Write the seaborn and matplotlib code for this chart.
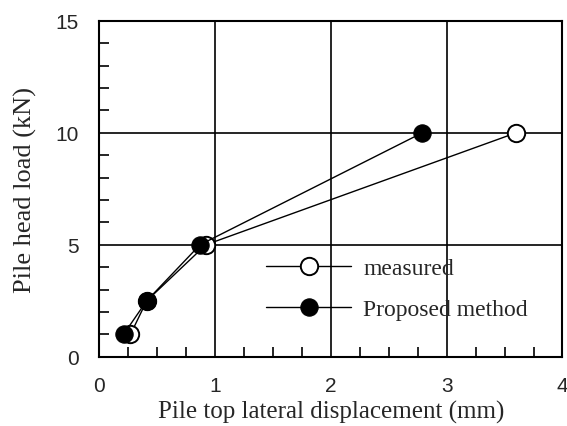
import matplotlib
matplotlib.use("Agg")
import matplotlib.pyplot as plt
import seaborn as sns
import pandas as pd
from matplotlib.ticker import MultipleLocator

measured_x = [0.27, 0.41, 0.92, 3.60]
measured_y = [1.0, 2.5, 5.0, 10.0]
proposed_x = [0.21, 0.41, 0.87, 2.79]
proposed_y = [1.0, 2.5, 5.0, 10.0]

sns.set_theme(style="white")
plt.rcParams['font.family'] = ['Liberation Serif', 'DejaVu Serif']

fig = plt.figure(figsize=(5.67, 4.27), dpi=100)
ax = fig.add_axes([0.175, 0.162, 0.817, 0.787])

dm = pd.DataFrame({"x": measured_x, "y": measured_y})
dp = pd.DataFrame({"x": proposed_x, "y": proposed_y})

sns.lineplot(data=dm, x="x", y="y", ax=ax, color="black", lw=1, marker="o",
             markersize=12.5, markerfacecolor="white", markeredgecolor="black",
             markeredgewidth=1.4, label="measured", sort=False, zorder=3)
sns.lineplot(data=dp, x="x", y="y", ax=ax, color="black", lw=1, marker="o",
             markersize=12.5, markerfacecolor="black", markeredgecolor="black",
             label="Proposed method", sort=False, zorder=4)

ax.set_xlim(0, 4)
ax.set_ylim(0, 15)
ax.xaxis.set_major_locator(MultipleLocator(1))
ax.yaxis.set_major_locator(MultipleLocator(5))
ax.xaxis.set_minor_locator(MultipleLocator(0.25))
ax.yaxis.set_minor_locator(MultipleLocator(1))
ax.grid(True, which="major", color="black", lw=1.2)
ax.tick_params(which="major", direction="in", length=0, labelsize=15)
ax.tick_params(axis="y", which="major", pad=15)
ax.tick_params(axis="x", which="major", pad=14)
ax.tick_params(which="minor", direction="in", length=7, width=1.2, color="black",
               bottom=True, left=True, top=False, right=False)
for lab in ax.get_xticklabels() + ax.get_yticklabels():
    lab.set_family(['Liberation Sans', 'DejaVu Sans'])
for s in ax.spines.values():
    s.set_color("black")
    s.set_linewidth(1.5)

ax.set_xlabel("Pile top lateral displacement (mm)", fontsize=18, labelpad=3)
ax.set_ylabel("Pile head load (kN)", fontsize=19, labelpad=13)

ax.legend(loc="lower left", bbox_to_anchor=(0.315, 0.045), frameon=False,
          fontsize=17, handlelength=3.6, handletextpad=0.5, labelspacing=0.85)

fig.savefig("out.png", dpi=100, facecolor="white")
